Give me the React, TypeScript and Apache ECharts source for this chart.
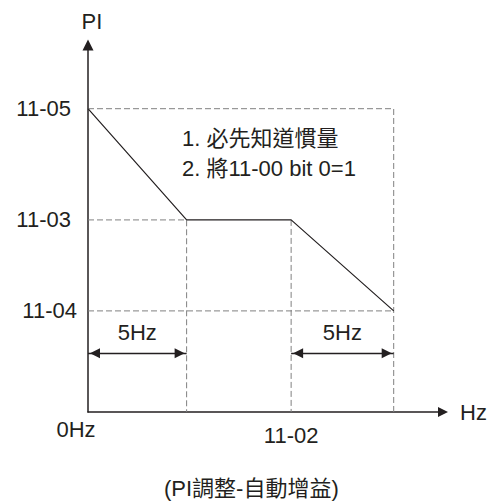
import React, { useEffect, useRef } from "react";
import * as echarts from "echarts";

// Frequency break points: 0Hz, 5Hz, 11-02, 11-02 + 5Hz
const freqBreaks = [0, 5, 10.3, 15.5];
// PI gain at those break points: 11-05, 11-03, 11-03, 11-04
const piCurve = [3.0, 1.9, 1.9, 1.0];
const yLevelValues = [3.0, 1.9, 1.0];
const yLevelLabels = ["11-05", "11-03", "11-04"];
const xTickValues = [0, 10.3];
const xTickLabels = ["0Hz", "11-02"];
const arrowLevel = 0.58;
const spanLabel = "5Hz";
const notes = ["1. 必先知道慣量", "2. 將11-00 bit 0=1"];
const caption = "(PI調整-自動增益)";
const xMax = 18.0;
const yMax = 3.63;

const INK = "#231f20";
const DASH = "#808080";
const FONT = "'Liberation Sans', Arial, 'Noto Sans CJK TC', sans-serif";
const FS = 22;

export default function App() {
  const ref = useRef<HTMLDivElement>(null);
  useEffect(() => {
    if (!ref.current) return;
    const chart = echarts.init(ref.current, null, { renderer: "svg" });
    const [f0, f5, f02, fEnd] = freqBreaks;
    const [yHigh, yMid, yLow] = yLevelValues;
    const guides: number[][][] = [
      [[0, yHigh], [fEnd, yHigh], [fEnd, 0]],
      [[0, yMid], [f5, yMid], [f5, 0]],
      [[f02, yMid], [f02, 0]],
      [[0, yLow], [fEnd, yLow]],
    ];
    const labelMap: Record<string, string> = {};
    yLevelValues.forEach((v, i) => (labelMap[String(v)] = yLevelLabels[i]));
    const xLabelMap: Record<string, string> = {};
    xTickValues.forEach((v, i) => (xLabelMap[String(v)] = xTickLabels[i]));
    const baseText = { color: INK, fontSize: FS, fontFamily: FONT };

    const hiddenAxisParts = {
      axisTick: { show: false },
      splitLine: { show: false },
    };

    chart.setOption({
      animation: false,
      backgroundColor: "#ffffff",
      textStyle: { fontFamily: FONT },
      title: {
        text: caption,
        left: 164,
        top: 476,
        padding: 0,
        textStyle: { ...baseText, fontWeight: "normal", lineHeight: 24 },
      },
      grid: { left: 88, right: 48, top: 45, bottom: 92, containLabel: false },
      xAxis: [
        {
          type: "value",
          position: "bottom",
          min: 0,
          max: xMax,
          ...hiddenAxisParts,
          axisLine: {
            show: true,
            symbol: ["none", "triangle"],
            symbolSize: [10, 10],
            lineStyle: { color: INK, width: 1.5 },
          },
          axisLabel: {
            ...baseText,
            customValues: [xTickValues[0]],
            showMinLabel: true,
            margin: 6,
            formatter: (v: number) => xLabelMap[String(v)] ?? "",
            padding: [0, 24, 0, 0],
          },
          name: "Hz",
          nameLocation: "end",
          nameGap: 17,
          nameTextStyle: { ...baseText, padding: [6, 0, 0, 0] },
        },
        {
          type: "value",
          position: "bottom",
          min: 0,
          max: xMax,
          ...hiddenAxisParts,
          axisLine: { show: false },
          axisLabel: {
            ...baseText,
            customValues: [xTickValues[1]],
            margin: 12,
            formatter: (v: number) => xLabelMap[String(v)] ?? "",
          },
        },
      ],
      yAxis: [
        {
          type: "value",
          position: "left",
          min: 0,
          max: yMax,
          ...hiddenAxisParts,
          axisLine: {
            show: true,
            symbol: ["none", "triangle"],
            symbolSize: [11, 11],
            lineStyle: { color: INK, width: 1.5 },
          },
          axisLabel: {
            ...baseText,
            customValues: [yHigh, yMid],
            margin: 17,
            formatter: (v: number) => labelMap[String(v)] ?? "",
          },
          name: "PI",
          nameLocation: "end",
          nameGap: 13,
          nameTextStyle: { ...baseText, padding: [0, 0, 0, 8] },
        },
        {
          type: "value",
          position: "left",
          min: 0,
          max: yMax,
          ...hiddenAxisParts,
          axisLine: { show: false },
          axisLabel: {
            ...baseText,
            customValues: [yLow],
            margin: 11,
            formatter: (v: number) => labelMap[String(v)] ?? "",
          },
        },
      ],
      series: [
        ...guides.map((g) => ({
          type: "line",
          xAxisIndex: 0,
          yAxisIndex: 0,
          data: g,
          symbol: "none",
          silent: true,
          z: 1,
          lineStyle: { color: DASH, width: 1, type: [6, 3] },
        })),
        {
          type: "line",
          xAxisIndex: 0,
          yAxisIndex: 0,
          data: freqBreaks.map((f, i) => [f, piCurve[i]]),
          symbol: "none",
          z: 3,
          lineStyle: { color: INK, width: 1.2 },
        },
        {
          type: "line",
          xAxisIndex: 0,
          yAxisIndex: 0,
          data: [],
          markLine: {
            silent: true,
            symbol: ["triangle", "triangle"],
            symbolSize: [10, 10],
            symbolOffset: [[0, 7], [0, 7]],
            lineStyle: { color: INK, width: 1.3, type: "solid" },
            label: {
              show: true,
              position: "middle",
              distance: 10,
              formatter: spanLabel,
              ...baseText,
            },
            data: [
              [{ coord: [f0, arrowLevel] }, { coord: [f5, arrowLevel] }],
              [{ coord: [f02, arrowLevel] }, { coord: [fEnd, arrowLevel] }],
            ],
          },
        },
      ],
      graphic: notes.map((t, i) => ({
        type: "text",
        left: 182,
        top: 127 + i * 30,
        style: { text: t, fill: INK, fontSize: FS, fontFamily: FONT },
      })),
    });
    return () => chart.dispose();
  }, []);
  return (
    <div
      ref={ref}
      style={{ position: "fixed", left: 0, top: 0, width: 491, height: 504 }}
    />
  );
}
